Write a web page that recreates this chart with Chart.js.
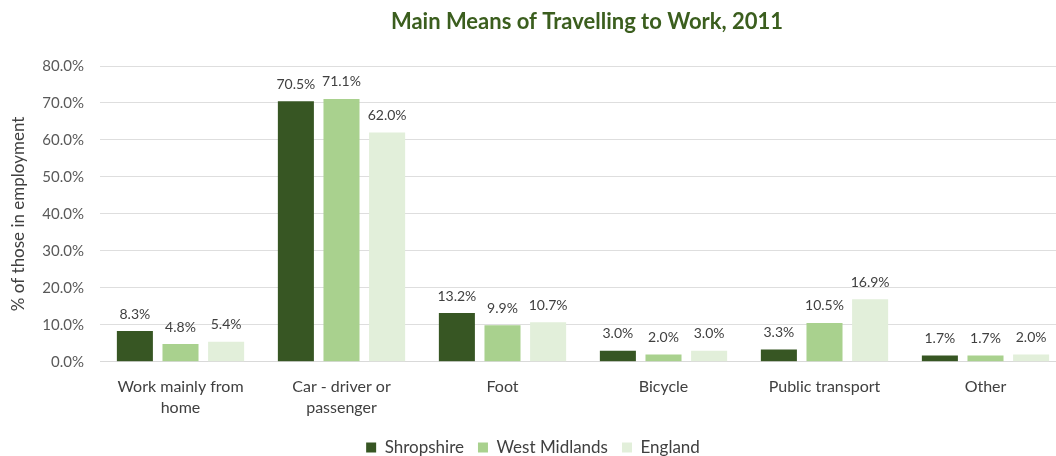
<!DOCTYPE html>
<html>
<head>
<meta charset="utf-8">
<script src="https://cdn.jsdelivr.net/npm/chart.js@4"></script>
<style>
  html, body { margin: 0; padding: 0; background: #fff; overflow: hidden; }
  /* the original crop cuts the plot off at the right edge, so the canvas runs past it */
  #wrap { width: 1066px; height: 456px; position: relative; }
</style>
</head>
<body>
<div id="wrap"><canvas id="travelChart"></canvas></div>
<script>
(function () {
  var CATEGORIES = [
    ['Work mainly from', 'home'],
    ['Car - driver or', 'passenger'],
    'Foot',
    'Bicycle',
    'Public transport',
    'Other'
  ];
  var SHROPSHIRE = [8.3, 70.5, 13.2, 3.0, 3.3, 1.7];
  var WEST_MIDLANDS = [4.8, 71.1, 9.9, 2.0, 10.5, 1.7];
  var ENGLAND = [5.4, 62.0, 10.7, 3.0, 16.9, 2.0];
  var Y_MAX = 80;
  var Y_STEP = 10;

  var FONT = 'Lato, "Open Sans", sans-serif';
  var TEXT = '#404040';

  // chart title, sits right of centre in the original
  var titlePlugin = {
    id: 'offsetTitle',
    afterDraw: function (chart) {
      var ctx = chart.ctx;
      ctx.save();
      ctx.font = 'bold 22px ' + FONT;
      ctx.fillStyle = '#3b5e1e';
      ctx.textAlign = 'center';
      ctx.textBaseline = 'middle';
      ctx.fillText('Main Means of Travelling to Work, 2011', 587, 22);
      ctx.restore();
    }
  };

  // value labels above each bar
  var barLabels = {
    id: 'barLabels',
    afterDatasetsDraw: function (chart) {
      var ctx = chart.ctx;
      ctx.save();
      ctx.font = '14px ' + FONT;
      ctx.fillStyle = TEXT;
      ctx.textAlign = 'center';
      ctx.textBaseline = 'middle';
      chart.data.datasets.forEach(function (ds, di) {
        chart.getDatasetMeta(di).data.forEach(function (bar, i) {
          ctx.fillText(ds.data[i].toFixed(1) + '%', bar.x, bar.y - 17);
        });
      });
      ctx.restore();
    }
  };

  function ds(label, values, color) {
    return {
      label: label,
      data: values,
      backgroundColor: color,
      borderWidth: 0,
      categoryPercentage: 0.85,
      barPercentage: 0.79
    };
  }

  new Chart(document.getElementById('travelChart'), {
    type: 'bar',
    data: {
      labels: CATEGORIES,
      datasets: [
        ds('Shropshire', SHROPSHIRE, '#375623'),
        ds('West Midlands', WEST_MIDLANDS, '#a9d18e'),
        ds('England', ENGLAND, '#e2efda')
      ]
    },
    options: {
      responsive: true,
      maintainAspectRatio: false,
      animation: false,
      layout: { padding: { left: 0, right: 0, top: 66, bottom: -10 } },
      plugins: {
        title: { display: false },
        legend: {
          position: 'bottom',
          labels: {
            boxWidth: 10, boxHeight: 10, padding: 14,
            color: TEXT,
            font: { family: FONT, size: 17 }
          }
        },
        tooltip: { enabled: false }
      },
      scales: {
        x: {
          grid: { display: false },
          border: { color: '#d9d9d9' },
          ticks: {
            color: TEXT,
            font: { family: FONT, size: 16, lineHeight: 1.35 },
            maxRotation: 0,
            padding: 6
          }
        },
        y: {
          min: 0, max: Y_MAX,
          border: { display: false },
          grid: { color: '#dedede', drawTicks: false },
          ticks: {
            stepSize: Y_STEP,
            color: '#595959',
            font: { family: FONT, size: 15 },
            padding: 16,
            callback: function (v) { return v.toFixed(1) + '%'; }
          },
          title: {
            display: true,
            text: '% of those in employment',
            color: TEXT,
            font: { family: FONT, size: 17 },
            padding: { top: 8, bottom: 0 }
          },
          afterFit: function (scale) { scale.width = 100; }
        }
      }
    },
    plugins: [barLabels, titlePlugin]
  });
})();
</script>
</body>
</html>
